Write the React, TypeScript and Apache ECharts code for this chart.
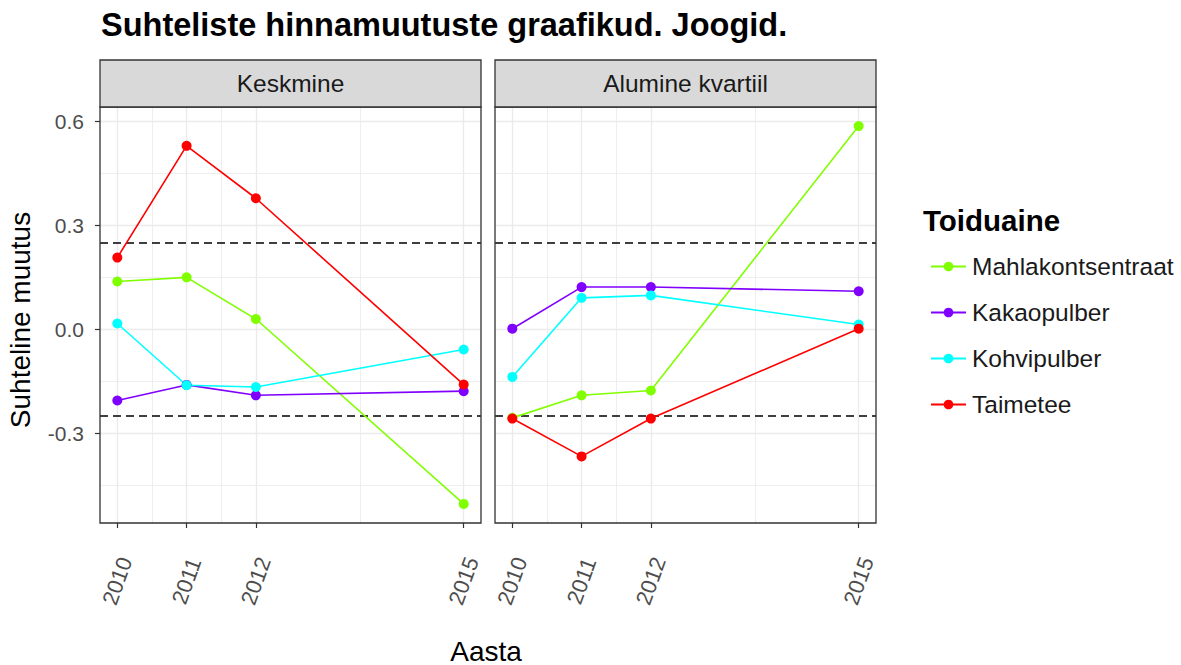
import React, { useEffect, useRef } from 'react';
import * as echarts from 'echarts';

const years = [2010, 2011, 2012, 2015];
const panelNames = ['Keskmine', 'Alumine kvartiil'];
const seriesNames = ['Mahlakontsentraat', 'Kakaopulber', 'Kohvipulber', 'Taimetee'];
const seriesColors = ['#80FF00', '#8000FF', '#00FFFF', '#FF0000'];

// Keskmine panel
const keskMahla = [0.138, 0.150, 0.030, -0.503];
const keskKakao = [-0.205, -0.160, -0.190, -0.178];
const keskKohvi = [0.017, -0.161, -0.166, -0.058];
const keskTaimetee = [0.207, 0.529, 0.378, -0.159];

// Alumine kvartiil panel
const alumMahla = [-0.255, -0.190, -0.176, 0.586];
const alumKakao = [0.002, 0.122, 0.122, 0.110];
const alumKohvi = [-0.137, 0.091, 0.098, 0.014];
const alumTaimetee = [-0.257, -0.366, -0.257, 0.002];

const panelValues = [
  [keskMahla, keskKakao, keskKohvi, keskTaimetee],
  [alumMahla, alumKakao, alumKohvi, alumTaimetee],
];

const yMajorTicks = [-0.3, 0, 0.3, 0.6];
const yMinorTicks = [-0.45, -0.15, 0.15, 0.45];
const xMinorTicks = [2010.5, 2011.5, 2013.5];
const thresholds = [0.25, -0.25];

const title = 'Suhteliste hinnamuutuste graafikud. Joogid.';
const xTitle = 'Aasta';
const yTitle = 'Suhteline muutus';
const legendTitle = 'Toiduaine';

const FONT = '"Liberation Sans", Arial, sans-serif';
const X_MIN = 2009.75;
const X_MAX = 2015.25;
const Y_MIN = -0.558;
const Y_MAX = 0.641;

const grids = [
  { left: 100, top: 107, width: 381, height: 416 },
  { left: 495, top: 107, width: 381, height: 416 },
];

export default function App() {
  const ref = useRef<HTMLDivElement>(null);

  useEffect(() => {
    document.body.style.margin = '0';
    if (!ref.current) return;
    const chart = echarts.init(ref.current, undefined, { renderer: 'svg' });

    const xAxes: any[] = [];
    const yAxes: any[] = [];
    grids.forEach((g, p) => {
      xAxes.push({
        type: 'value',
        gridIndex: p,
        min: X_MIN,
        max: X_MAX,
        position: 'bottom',
        axisLine: { show: false, onZero: false },
        axisTick: {
          show: true,
          customValues: years,
          length: 5,
          lineStyle: { color: '#333333', width: 1.2 },
        },
        axisLabel: {
          show: true,
          customValues: years,
          formatter: (v: number) => String(Math.round(v)),
          rotate: 70,
          align: 'center',
          verticalAlign: 'middle',
          margin: 58,
          fontSize: 22,
          fontFamily: FONT,
          color: '#4D4D4D',
        },
        splitLine: { show: true, lineStyle: { color: '#EBEBEB', width: 1.4 } },
      });
      xAxes.push({
        type: 'value',
        gridIndex: p,
        min: X_MIN,
        max: X_MAX,
        position: 'top',
        axisLine: { show: false, onZero: false },
        axisTick: { show: false, customValues: xMinorTicks },
        axisLabel: { show: false, customValues: xMinorTicks },
        splitLine: { show: true, lineStyle: { color: '#EEEEEE', width: 1 } },
      });
      yAxes.push({
        type: 'value',
        gridIndex: p,
        min: Y_MIN,
        max: Y_MAX,
        position: 'left',
        axisLine: { show: false, onZero: false },
        axisTick: {
          show: p === 0,
          customValues: yMajorTicks,
          length: 5,
          lineStyle: { color: '#333333', width: 1.2 },
        },
        axisLabel: {
          show: p === 0,
          customValues: yMajorTicks,
          formatter: (v: number) => v.toFixed(1),
          margin: 16,
          fontSize: 21,
          fontFamily: FONT,
          color: '#4D4D4D',
        },
        splitLine: { show: true, lineStyle: { color: '#EBEBEB', width: 1.4 } },
      });
      yAxes.push({
        type: 'value',
        gridIndex: p,
        min: Y_MIN,
        max: Y_MAX,
        position: 'right',
        axisLine: { show: false, onZero: false },
        axisTick: { show: false, customValues: yMinorTicks },
        axisLabel: { show: false, customValues: yMinorTicks },
        splitLine: { show: true, lineStyle: { color: '#EEEEEE', width: 1 } },
      });
    });

    const series: any[] = [];
    panelValues.forEach((vals, p) => {
      vals.forEach((arr, i) => {
        const s: any = {
          type: 'line',
          name: seriesNames[i],
          xAxisIndex: p * 2,
          yAxisIndex: p * 2,
          data: years.map((y, k) => [y, arr[k]]),
          symbol: 'circle',
          symbolSize: 10,
          showSymbol: true,
          lineStyle: { color: seriesColors[i], width: 1.6 },
          itemStyle: { color: seriesColors[i] },
          emphasis: { disabled: true },
          z: 3,
        };
        if (i === 0) {
          s.markLine = {
            silent: true,
            symbol: ['none', 'none'],
            label: { show: false },
            lineStyle: { color: '#000000', type: [8, 5], width: 1.5 },
            data: thresholds.map((t) => ({ yAxis: t })),
            z: 2,
          };
        }
        series.push(s);
      });
    });

    const graphic: any[] = [];
    grids.forEach((g, p) => {
      graphic.push({
        type: 'rect',
        shape: { x: g.left, y: 60, width: g.width, height: g.top - 60 },
        style: { fill: '#D9D9D9', stroke: '#333333', lineWidth: 1.3 },
        z: 10,
      });
      graphic.push({
        type: 'text',
        x: g.left + g.width / 2,
        y: (60 + g.top) / 2,
        style: {
          text: panelNames[p],
          fontSize: 24.5,
          fontFamily: FONT,
          fill: '#1A1A1A',
          align: 'center',
          verticalAlign: 'middle',
        },
        z: 11,
      });
    });
    graphic.push({
      type: 'text',
      x: (grids[0].left + grids[1].left + grids[1].width) / 2 - 2,
      y: 651,
      style: {
        text: xTitle,
        fontSize: 28,
        fontFamily: FONT,
        fill: '#000000',
        align: 'center',
        verticalAlign: 'middle',
      },
    });
    graphic.push({
      type: 'text',
      x: 20,
      y: 320,
      rotation: Math.PI / 2,
      style: {
        text: yTitle,
        fontSize: 28,
        fontFamily: FONT,
        fill: '#000000',
        align: 'center',
        verticalAlign: 'middle',
      },
    });
    graphic.push({
      type: 'text',
      x: 923,
      y: 220,
      style: {
        text: legendTitle,
        fontSize: 29.5,
        fontWeight: 'bold',
        fontFamily: FONT,
        fill: '#000000',
        align: 'left',
        verticalAlign: 'middle',
      },
    });

    chart.setOption({
      animation: false,
      backgroundColor: '#FFFFFF',
      title: {
        text: title,
        left: 96,
        top: 3,
        textStyle: { fontSize: 32.5, fontWeight: 'bold', fontFamily: FONT, color: '#000000' },
      },
      legend: {
        data: seriesNames,
        orient: 'vertical',
        left: 925,
        top: 249,
        itemWidth: 35,
        itemHeight: 12,
        itemGap: 21,
        selectedMode: false,
        textStyle: { fontSize: 24.5, fontFamily: FONT, color: '#1A1A1A', padding: [0, 0, 0, 1] },
      },
      grid: grids.map((g) => ({
        ...g,
        show: true,
        borderColor: '#333333',
        borderWidth: 1.3,
        backgroundColor: 'transparent',
        z: 5,
      })),
      xAxis: xAxes,
      yAxis: yAxes,
      series,
      graphic,
    });

    return () => chart.dispose();
  }, []);

  return <div ref={ref} style={{ width: 1181, height: 665, overflow: 'hidden' }} />;
}
